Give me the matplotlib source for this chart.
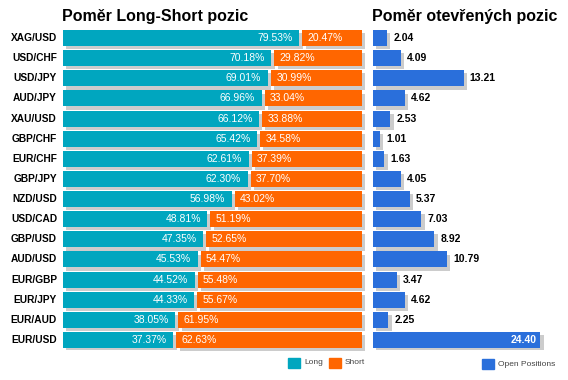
import matplotlib
matplotlib.use("Agg")
import matplotlib.pyplot as plt
import numpy as np

plt.rcParams['font.family'] = ['Liberation Sans', 'DejaVu Sans']

pairs = ["XAG/USD", "USD/CHF", "USD/JPY", "AUD/JPY", "XAU/USD", "GBP/CHF", "EUR/CHF", "GBP/JPY",
         "NZD/USD", "USD/CAD", "GBP/USD", "AUD/USD", "EUR/GBP", "EUR/JPY", "EUR/AUD", "EUR/USD"]
longPct = [79.53, 70.18, 69.01, 66.96, 66.12, 65.42, 62.61, 62.30,
           56.98, 48.81, 47.35, 45.53, 44.52, 44.33, 38.05, 37.37]
shortPct = [20.47, 29.82, 30.99, 33.04, 33.88, 34.58, 37.39, 37.70,
            43.02, 51.19, 52.65, 54.47, 55.48, 55.67, 61.95, 62.63]
openPos = [2.04, 4.09, 13.21, 4.62, 2.53, 1.01, 1.63, 4.05,
           5.37, 7.03, 8.92, 10.79, 3.47, 4.62, 2.25, 24.40]

teal = "#00a6bf"
orange = "#ff6600"
blue = "#2a6fdb"
shadow = "#cccccc"

W, H = 568, 380
fig = plt.figure(figsize=(W/100, H/100), dpi=100)

def px_axes(x0, y0, x1, y1):
    return fig.add_axes([x0/W, 1-y1/H, (x1-x0)/W, (y1-y0)/H])

y = np.arange(len(pairs))
longArr = np.array(longPct)
shortArr = np.array(shortPct)
openArr = np.array(openPos)
bh = 0.8
dy = 0.16

# left panel: long/short ratio
ax1 = px_axes(63, 28, 362, 350)
ax1.set_xlim(0, 100)
ax1.set_ylim(len(pairs)-0.5, -0.5)
ax1.barh(y+dy, longArr-0.5, left=1.1, height=bh, color=shadow, zorder=1)
ax1.barh(y+dy, shortArr-0.5, left=longArr+0.5+1.1, height=bh, color=shadow, zorder=1, clip_on=False)
ax1.barh(y, longArr-0.5, height=bh, color=teal, zorder=2)
ax1.barh(y, shortArr-0.5, left=longArr+0.5, height=bh, color=orange, zorder=2)
for i in range(len(pairs)):
    ax1.text(longPct[i]-2.7, i, "%.2f%%" % longPct[i], color="white", fontsize=7.5,
             ha="right", va="center", zorder=3)
    ax1.text(longPct[i]+2.3, i, "%.2f%%" % shortPct[i], color="white", fontsize=7.5,
             ha="left", va="center", zorder=3)
    ax1.text(-2, i, pairs[i], color="black", fontsize=7.3, fontweight="bold",
             ha="right", va="center")
ax1.axis("off")

# right panel: open positions
ax2 = px_axes(373, 28, 565, 350)
ax2.set_xlim(0, 28)
ax2.set_ylim(len(pairs)-0.5, -0.5)
ax2.barh(y+dy, openArr, left=0.5, height=bh, color=shadow, zorder=1)
ax2.barh(y, openArr, height=bh, color=blue, zorder=2)
for i, v in enumerate(openPos):
    if v > 20:
        ax2.text(v-0.6, i, "%.2f" % v, color="white", fontsize=7.5, fontweight="bold",
                 ha="right", va="center", zorder=3)
    else:
        ax2.text(v+0.9, i, "%.2f" % v, color="black", fontsize=7.5, fontweight="bold",
                 ha="left", va="center", zorder=3)
ax2.axis("off")

# titles
fig.text(62/W, 1-16/H, "Poměr Long-Short pozic", fontsize=11.5, fontweight="bold", ha="left", va="center")
fig.text(372/W, 1-16/H, "Poměr otevřených pozic", fontsize=11.5, fontweight="bold", ha="left", va="center")

# legends
def legend_item(x, yc, color, label):
    fig.patches.append(plt.Rectangle((x/W, 1-(yc+5)/H), 12/W, 10/H, color=color,
                                     transform=fig.transFigure, figure=fig))
    fig.text((x+16)/W, 1-yc/H, label, fontsize=6, color="#444444", ha="left", va="center")

legend_item(288, 363, teal, "Long")
legend_item(329, 363, orange, "Short")
legend_item(482, 364, blue, "Open Positions")

fig.savefig("out.png", dpi=100)
